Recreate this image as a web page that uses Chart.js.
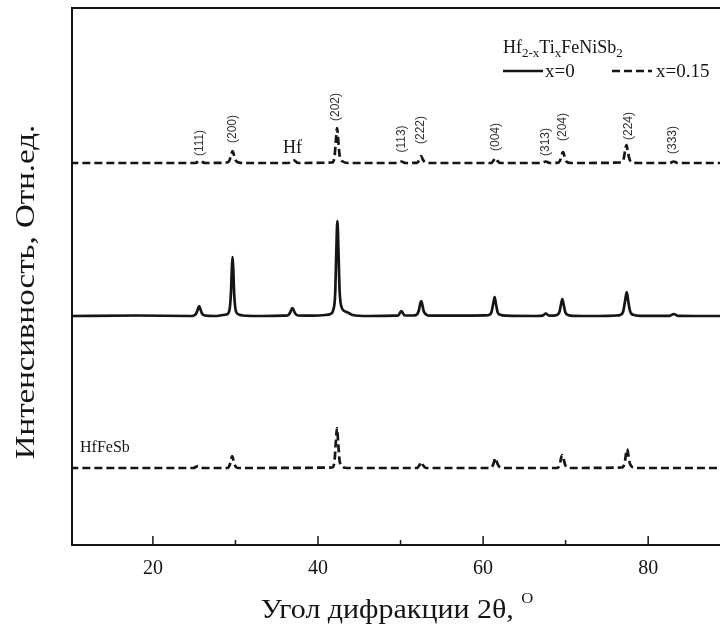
<!DOCTYPE html>
<html>
<head>
<meta charset="utf-8">
<script src="https://cdn.jsdelivr.net/npm/chart.js@4.4.1/dist/chart.umd.min.js"></script>
<style>
  html, body { margin: 0; padding: 0; background: #fff; }
  #wrap { width: 720px; height: 625px; }
</style>
</head>
<body>
<div id="wrap"><canvas id="xrdCanvas" width="720" height="625"></canvas></div>
<script>
// Дифрактограммы: пары [2θ, интенсивность] (отн. ед.)
const seriesX0 = [
  [10, 0], [18, 0.5], [24.5, 0],
  [24.9, 0.3], [25.25, 2.5], [25.45, 7], [25.6, 10], [25.75, 7], [25.95, 2.5], [26.3, 0.5],
  [27.5, 0], [28.5, 1],
  [28.9, 1.5], [29.25, 5], [29.45, 22], [29.57, 48], [29.65, 59], [29.73, 48], [29.85, 22], [30.05, 5], [30.4, 1.5], [30.9, 0.5],
  [33, 0], [35.8, 0.3],
  [36.3, 0.5], [36.6, 3], [36.78, 6.5], [36.9, 8], [37.02, 6.5], [37.2, 3], [37.6, 0.5],
  [39.5, 0.3], [40.9, 1],
  [41.5, 2], [41.85, 6], [42.08, 22], [42.22, 65], [42.35, 95], [42.48, 65], [42.62, 25], [42.85, 9], [43.2, 5], [43.6, 3.5], [44.2, 1],
  [46, 0], [49.3, 0.3],
  [49.7, 0.5], [49.95, 3.5], [50.1, 5], [50.25, 3.5], [50.5, 0.5],
  [51.5, 0.5],
  [51.9, 1], [52.2, 5], [52.38, 12], [52.5, 15], [52.62, 12], [52.8, 5], [53.1, 1.5], [53.6, 0.3],
  [57, 0.3], [60.3, 0.6],
  [60.7, 1], [61.0, 3.5], [61.22, 12], [61.4, 19], [61.56, 12], [61.78, 3.5], [62.1, 1.2], [62.8, 0.3],
  [66.5, 0],
  [67.2, 0.3], [67.6, 2.5], [68.0, 0.3],
  [68.9, 0.8], [69.25, 4], [69.45, 12], [69.6, 17], [69.75, 12], [69.95, 4], [70.3, 1], [70.9, 0.2],
  [74, 0], [76.2, 0.5],
  [76.6, 1], [76.95, 4], [77.2, 15], [77.4, 24], [77.58, 15], [77.82, 4.5], [78.2, 1.2], [79, 0.2],
  [82.6, 0.2], [83.1, 2], [83.6, 0.2],
  [88.7, 0]
];

const seriesX015 = [
  [10, 0], [25.1, 0], [25.7, 2], [26.3, 0],
  [29.0, 0.5], [29.3, 3], [29.5, 9], [29.65, 12], [29.8, 8.5], [30.0, 3], [30.4, 0.5], [31, 0],
  [36.4, 0], [37.0, 3], [37.6, 0],
  [41.7, 0.5], [42.0, 6], [42.18, 24], [42.32, 35], [42.46, 22], [42.65, 6], [43.0, 1.5], [43.6, 0],
  [49.6, 0], [50.1, 1.5], [50.6, 0],
  [52.0, 0.2], [52.3, 3.5], [52.5, 7], [52.7, 3.5], [53.0, 0.5], [53.5, 0],
  [61.0, 0], [61.3, 3], [61.5, 5], [61.7, 2.5], [62.1, 0],
  [67.1, 0], [67.6, 1.5], [68.1, 0],
  [69.1, 0.3], [69.4, 4], [69.6, 10], [69.7, 11], [69.85, 7], [70.1, 1.5], [70.6, 0],
  [76.7, 0.5], [77.05, 5], [77.25, 15], [77.38, 18], [77.52, 12], [77.75, 3.5], [78.2, 0.3], [78.8, 0],
  [82.6, 0], [83.1, 1.5], [83.6, 0],
  [88.7, 0]
];

const seriesHfFeSb = [
  [10, 0], [24.9, 0], [25.5, 2], [26.1, 0],
  [29.0, 0], [29.3, 3], [29.48, 9], [29.6, 12], [29.72, 9], [29.92, 3], [30.3, 0],
  [41.7, 0.5], [42.0, 7], [42.16, 26], [42.3, 40], [42.44, 26], [42.62, 7], [43.0, 1], [43.5, 0],
  [52.0, 0], [52.3, 3], [52.5, 6], [52.7, 3], [53.1, 0],
  [60.9, 0], [61.25, 4], [61.4, 8.5], [61.5, 10], [61.62, 7], [61.85, 2.5], [62.3, 0],
  [69.0, 0], [69.3, 4], [69.48, 11], [69.6, 13], [69.72, 10], [69.95, 3], [70.4, 0],
  [76.8, 0.5], [77.15, 5], [77.33, 15], [77.45, 19], [77.58, 14], [77.8, 4], [78.3, 0.3], [78.9, 0],
  [88.7, 0]
];

// смещения кривых по оси интенсивности
const offsetX015 = 382;
const offsetX0 = 229;
const offsetHfFeSb = 77;

// индексы отражений над верхней кривой
const hklLabels = ["(111)", "(200)", "(202)", "(113)", "(222)", "(004)", "(313)", "(204)", "(224)", "(333)"];
const hklAngles = [25.7, 29.7, 42.2, 50.1, 52.5, 61.5, 67.6, 69.6, 77.6, 83.0];
const hklY = [143, 129, 107, 139, 130, 137, 142, 127, 126, 140];

const majorTicks = [20, 40, 60, 80];
const minorTicks = [30, 50, 70];

const ink = "#151515";
const serif = "'Liberation Serif', 'Times New Roman', serif";

function shifted(series, off) {
  return series.map(p => ({ x: p[0], y: p[1] + off }));
}

function subText(ctx, parts, x, y) {
  // parts: [text, isSub]
  parts.forEach(([t, sub]) => {
    ctx.font = sub ? "13px " + serif : "18px " + serif;
    ctx.fillText(t, x, sub ? y + 4 : y);
    x += ctx.measureText(t).width;
  });
}

const decorPlugin = {
  id: "decor",
  afterDraw(chart) {
    const ctx = chart.ctx;
    const a = chart.chartArea;
    const xs = chart.scales.x;
    ctx.save();

    // рамка
    ctx.strokeStyle = ink;
    ctx.lineWidth = 2;
    ctx.beginPath();
    ctx.moveTo(a.right, a.top);
    ctx.lineTo(a.left, a.top);
    ctx.lineTo(a.left, a.bottom);
    ctx.lineTo(a.right, a.bottom);
    ctx.stroke();

    // засечки внутрь
    ctx.lineWidth = 1.5;
    majorTicks.forEach(v => {
      const px = xs.getPixelForValue(v);
      ctx.beginPath(); ctx.moveTo(px, a.bottom); ctx.lineTo(px, a.bottom - 9); ctx.stroke();
    });
    minorTicks.forEach(v => {
      const px = xs.getPixelForValue(v);
      ctx.beginPath(); ctx.moveTo(px, a.bottom); ctx.lineTo(px, a.bottom - 5); ctx.stroke();
    });

    ctx.fillStyle = ink;

    // подпись оси Y (шрифт в оригинале заметно шире)
    ctx.save();
    ctx.translate(27, 292);
    ctx.rotate(-Math.PI / 2);
    ctx.scale(1.22, 1);
    ctx.textAlign = "center";
    ctx.textBaseline = "middle";
    ctx.font = "27px " + serif;
    ctx.fillText("Интенсивность, Отн.ед.", 0, 0);
    ctx.restore();

    // подпись оси X
    ctx.save();
    ctx.translate(397, 0);
    ctx.scale(1.11, 1);
    ctx.textAlign = "left";
    ctx.textBaseline = "alphabetic";
    ctx.font = "27px " + serif;
    const xt = "Угол дифракции 2θ, ";
    const w1 = ctx.measureText(xt).width;
    ctx.font = "15px " + serif;
    const w2 = ctx.measureText("O").width;
    const x0 = -(w1 + w2) / 2;
    ctx.font = "27px " + serif;
    ctx.fillText(xt, x0, 618);
    ctx.font = "15px " + serif;
    ctx.fillText("O", x0 + w1, 603);
    ctx.restore();

    // легенда
    ctx.textAlign = "left";
    subText(ctx, [["Hf", false], ["2-x", true], ["Ti", false], ["x", true], ["FeNiSb", false], ["2", true]], 503, 53);
    ctx.lineWidth = 2.5;
    ctx.beginPath(); ctx.moveTo(503, 71); ctx.lineTo(543, 71); ctx.stroke();
    ctx.setLineDash([8, 4]);
    ctx.beginPath(); ctx.moveTo(612, 71); ctx.lineTo(652, 71); ctx.stroke();
    ctx.setLineDash([]);
    ctx.font = "19px " + serif;
    ctx.fillText("x=0", 545, 77);
    ctx.fillText("x=0.15", 656, 77);

    // надписи фаз
    ctx.font = "18px " + serif;
    ctx.fillText("Hf", 283, 153);
    ctx.font = "16px " + serif;
    ctx.fillText("HfFeSb", 80, 452);

    // hkl
    ctx.fillStyle = "#333";
    ctx.font = "12px 'Liberation Sans', Arial, sans-serif";
    ctx.textAlign = "center";
    ctx.textBaseline = "middle";
    hklLabels.forEach((lab, i) => {
      ctx.save();
      ctx.translate(xs.getPixelForValue(hklAngles[i]), hklY[i]);
      ctx.rotate(-Math.PI / 2);
      ctx.fillText(lab, 0, 0);
      ctx.restore();
    });

    ctx.restore();
  }
};

const lineStyle = {
  borderColor: ink,
  borderWidth: 2.7,
  pointRadius: 0,
  cubicInterpolationMode: "monotone",
  fill: false
};

new Chart(document.getElementById("xrdCanvas").getContext("2d"), {
  type: "line",
  data: {
    datasets: [
      Object.assign({ label: "x=0.15", data: shifted(seriesX015, offsetX015), borderDash: [8, 4] }, lineStyle),
      Object.assign({ label: "x=0", data: shifted(seriesX0, offsetX0) }, lineStyle),
      Object.assign({ label: "HfFeSb", data: shifted(seriesHfFeSb, offsetHfFeSb), borderDash: [8, 4] }, lineStyle)
    ]
  },
  options: {
    responsive: false,
    animation: false,
    layout: { padding: { top: 8, left: 72, right: 0, bottom: 0 } },
    plugins: { legend: { display: false }, tooltip: { enabled: false } },
    scales: {
      x: {
        type: "linear",
        min: 10.2,
        max: 88.7,
        grid: { display: false },
        border: { display: false },
        afterBuildTicks: s => { s.ticks = majorTicks.map(v => ({ value: v })); },
        afterFit: s => { s.height = 80; },
        ticks: {
          color: ink,
          padding: 4,
          maxRotation: 0,
          font: { family: "Liberation Serif", size: 20 }
        }
      },
      y: { display: false, min: 0, max: 537 }
    }
  },
  plugins: [decorPlugin]
});
</script>
</body>
</html>
